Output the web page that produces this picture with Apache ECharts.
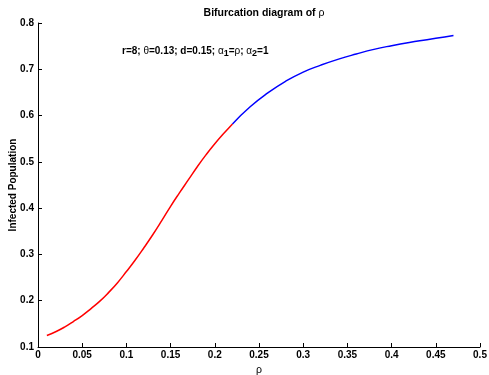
<!DOCTYPE html>
<html>
<head>
<meta charset="utf-8">
<script src="https://cdn.jsdelivr.net/npm/echarts@6/dist/echarts.min.js"></script>
<style>
  html, body { margin: 0; padding: 0; background: #fff; }
  #chart { width: 489px; height: 375px; }
</style>
</head>
<body>
<div id="chart"></div>
<script>
// Unstable branch (red)
const rhoRed = [0.01, 0.02, 0.03, 0.04, 0.05, 0.06, 0.07, 0.08, 0.09, 0.10, 0.11,
  0.12, 0.13, 0.14, 0.15, 0.16, 0.17, 0.18, 0.19, 0.20, 0.21, 0.22];
const infRed = [0.125, 0.133, 0.143, 0.155, 0.168, 0.183, 0.199, 0.218, 0.239, 0.263, 0.288,
  0.315, 0.343, 0.373, 0.404, 0.433, 0.461, 0.489, 0.515, 0.539, 0.561, 0.582];

// Stable branch (blue)
const rhoBlue = [0.22, 0.24, 0.26, 0.28, 0.30, 0.32, 0.34, 0.36, 0.38, 0.40, 0.42, 0.44, 0.46, 0.47];
const infBlue = [0.582, 0.619, 0.649, 0.674, 0.694, 0.709, 0.722, 0.733, 0.743, 0.751, 0.758, 0.764, 0.770, 0.773];

const FONT = "'Liberation Sans', Arial, Helvetica, sans-serif";

const zip = (xs, ys) => xs.map((x, i) => [x, ys[i]]);

const chart = echarts.init(document.getElementById("chart"), null, { renderer: "canvas" });

const axisCommon = {
  axisLine: { show: true, onZero: false, lineStyle: { color: "#000", width: 1 } },
  axisTick: { show: true, inside: true, length: 4, lineStyle: { color: "#000" } },
  splitLine: { show: false },
  axisLabel: { color: "#000", fontFamily: FONT, fontWeight: "bold", fontSize: 10 },
};

const option = {
  animation: false,
  backgroundColor: "#fff",
  title: {
    text: "{b|Bifurcation diagram of }{g|ρ}",
    left: 259,
    top: 3,
    textAlign: "center",
    textStyle: {
      rich: {
        b: { fontFamily: FONT, fontWeight: "bold", fontSize: 10.5, color: "#000" },
        g: { fontFamily: FONT, fontWeight: "normal", fontSize: 10.5, color: "#000" },
      },
    },
  },
  graphic: [
    {
      type: "text",
      left: 122,
      top: 40,
      style: {
        text: "{b|r=8; }{g|θ}{b|=0.13; d=0.15; }{g|α}{s|1}{b|=}{g|ρ}{b|; }{g|α}{s|2}{b|=1}",
        rich: {
          b: { fontFamily: FONT, fontWeight: "bold", fontSize: 10, color: "#000", verticalAlign: "top", lineHeight: 12 },
          g: { fontFamily: FONT, fontWeight: "normal", fontSize: 10, color: "#000", verticalAlign: "top", lineHeight: 12 },
          s: { fontFamily: FONT, fontWeight: "bold", fontSize: 9, color: "#000", verticalAlign: "bottom", lineHeight: 9, padding: [9, 0, 0, 0] },
        },
      },
    },
  ],
  grid: { left: 38, right: 9, top: 23, bottom: 28, containLabel: false, outerBoundsMode: "none" },
  xAxis: {
    ...axisCommon,
    type: "value",
    min: 0,
    max: 0.5,
    interval: 0.05,
    name: "ρ",
    nameLocation: "middle",
    nameGap: 18,
    nameMoveOverlap: false,
    nameTextStyle: { color: "#000", fontFamily: FONT, fontSize: 10.5 },
    axisLabel: { ...axisCommon.axisLabel, margin: 3 },
  },
  yAxis: {
    ...axisCommon,
    type: "value",
    min: 0.1,
    max: 0.8,
    interval: 0.1,
    name: "Infected Population",
    nameLocation: "middle",
    nameGap: 20,
    nameMoveOverlap: false,
    nameTextStyle: { color: "#000", fontFamily: FONT, fontWeight: "bold", fontSize: 10 },
    axisLabel: { ...axisCommon.axisLabel, margin: 4 },
  },
  series: [
    {
      type: "line",
      data: zip(rhoRed, infRed),
      showSymbol: false,
      smooth: true,
      lineStyle: { color: "#ff0000", width: 1.5 },
    },
    {
      type: "line",
      data: zip(rhoBlue, infBlue),
      showSymbol: false,
      smooth: true,
      lineStyle: { color: "#0000ff", width: 1.5 },
    },
  ],
};

chart.setOption(option);
</script>
</body>
</html>
